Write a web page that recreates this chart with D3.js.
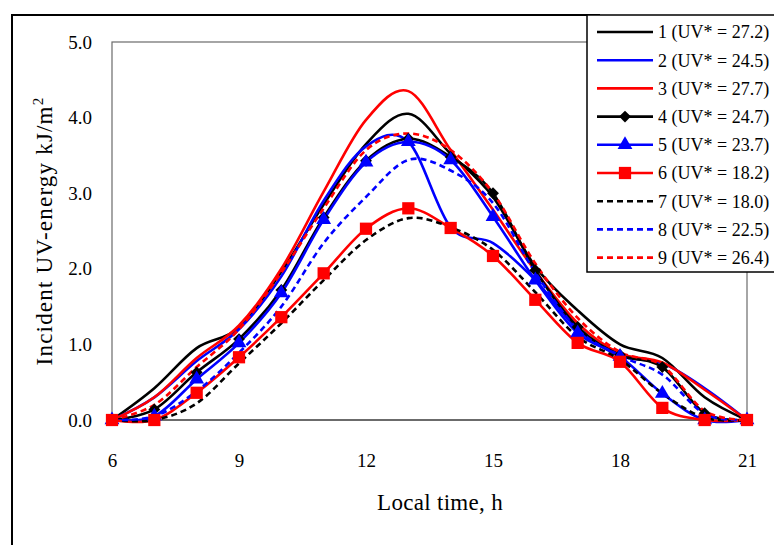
<!doctype html>
<html lang="en">
  <head>
    <meta charset="utf-8">
    <title>Incident UV-energy</title>
    <style>
      body{ margin: 0; background: #fff; }
      svg text{ font-family: "Liberation Serif", "DejaVu Serif", serif; fill: #000; }
    </style>
  </head>
  <body>
    <svg id="chart" width="774" height="545"></svg>
    <script src="https://d3js.org/d3.v7.min.js"></script>
    <script>

      //hours on the x axis
      var hours = [6, 7, 8, 9, 10, 11, 12, 13, 14, 15, 16, 17, 18, 19, 20, 21];

      //incident UV energy, kJ/m2, one array per day
      var day1 = [0, 0.42, 0.95, 1.22, 1.96, 2.85, 3.65, 4.05, 3.52, 2.95, 2.03, 1.45, 1.0, 0.82, 0.3, 0];
      var day2 = [0, 0.3, 0.78, 1.2, 1.9, 2.9, 3.62, 3.68, 2.55, 2.34, 1.85, 1.2, 0.85, 0.75, 0.42, 0];
      var day3 = [0, 0.3, 0.82, 1.25, 2.0, 3.02, 3.97, 4.35, 3.57, 2.78, 1.97, 1.28, 0.88, 0.76, 0.4, 0];
      var day4 = [0, 0.14, 0.63, 1.07, 1.72, 2.68, 3.43, 3.72, 3.48, 3.0, 1.98, 1.23, 0.86, 0.7, 0.09, 0];
      var day5 = [0, 0.05, 0.54, 1.02, 1.68, 2.65, 3.41, 3.68, 3.44, 2.69, 1.85, 1.15, 0.84, 0.35, 0, 0];
      var day6 = [0, 0, 0.36, 0.83, 1.36, 1.94, 2.53, 2.8, 2.54, 2.17, 1.59, 1.02, 0.77, 0.16, 0, 0];
      var day7 = [0, 0, 0.22, 0.75, 1.28, 1.85, 2.38, 2.67, 2.55, 2.25, 1.69, 1.1, 0.8, 0.35, 0.03, 0];
      var day8 = [0, 0.05, 0.38, 0.89, 1.5, 2.34, 2.95, 3.44, 3.3, 2.87, 1.95, 1.2, 0.85, 0.6, 0.08, 0];
      var day9 = [0, 0.2, 0.7, 1.2, 1.95, 2.8, 3.57, 3.79, 3.57, 3.0, 2.07, 1.35, 0.9, 0.72, 0.12, 0];

      //legend labels
      var labels = ["1 (UV* = 27.2)", "2 (UV* = 24.5)", "3 (UV* = 27.7)", "4 (UV* = 24.7)", "5 (UV* = 23.7)",
                    "6 (UV* = 18.2)", "7 (UV* = 18.0)", "8 (UV* = 22.5)", "9 (UV* = 26.4)"];

      //tick labels
      var xTicks = [6, 9, 12, 15, 18, 21];
      var yTicks = [0, 1, 2, 3, 4, 5];

      var values = [day1, day2, day3, day4, day5, day6, day7, day8, day9];

      //look of each series
      var looks = [
        {color: "#000000", dash: null, marker: null},
        {color: "#0000ff", dash: null, marker: null},
        {color: "#ff0000", dash: null, marker: null},
        {color: "#000000", dash: null, marker: "diamond"},
        {color: "#0000ff", dash: null, marker: "triangle"},
        {color: "#ff0000", dash: null, marker: "square"},
        {color: "#000000", dash: "6,4", marker: null},
        {color: "#0000ff", dash: "6,4", marker: null},
        {color: "#ff0000", dash: "6,4", marker: null}
      ];

      var series = values.map(function(v, i){
        return {
          label: labels[i],
          look: looks[i],
          points: hours.map(function(h, j){ return {x: h, y: v[j]}; })
        };
      });

      var svg = d3.select("#chart");

      var plot = {left: 112, right: 747, top: 42, bottom: 420};

      var x = d3.scaleLinear().domain([6, 21]).range([plot.left, plot.right]);
      var y = d3.scaleLinear().domain([0, 5]).range([plot.bottom, plot.top]);

      //outer figure border
      svg.append("path")
        .attr("d", "M12,545V15H600")
        .attr("fill", "none")
        .attr("stroke", "#000")
        .attr("stroke-width", 2);

      //plot frame
      svg.append("rect")
        .attr("x", plot.left)
        .attr("y", plot.top)
        .attr("width", plot.right - plot.left)
        .attr("height", plot.bottom - plot.top)
        .attr("fill", "none")
        .attr("stroke", "#6b6b6b")
        .attr("stroke-width", 1.2);

      //bottom axis line a bit heavier
      svg.append("line")
        .attr("x1", plot.left).attr("x2", plot.right)
        .attr("y1", plot.bottom).attr("y2", plot.bottom)
        .attr("stroke", "#6b6b6b")
        .attr("stroke-width", 2.2);

      //x axis
      var xAxis = svg.append("g")
        .attr("transform", "translate(0," + plot.bottom + ")")
        .call(d3.axisBottom(x).tickValues(xTicks).tickSize(0).tickPadding(34).tickFormat(d3.format("d")));
      xAxis.select(".domain").remove();
      xAxis.selectAll("text")
        .style("font-family", "'Liberation Serif', serif")
        .style("font-size", "19px");

      //y axis
      var yAxis = svg.append("g")
        .attr("transform", "translate(" + plot.left + ",0)")
        .call(d3.axisLeft(y).tickValues(yTicks).tickSize(0).tickPadding(20).tickFormat(d3.format(".1f")));
      yAxis.select(".domain").remove();
      yAxis.selectAll("text")
        .style("font-family", "'Liberation Serif', serif")
        .style("font-size", "19px");

      //axis titles
      svg.append("text")
        .attr("x", 440)
        .attr("y", 510)
        .attr("text-anchor", "middle")
        .style("font-size", "23px")
        .style("letter-spacing", "0.3px")
        .text("Local time, h");

      var yTitle = svg.append("text")
        .attr("transform", "translate(52,231) rotate(-90)")
        .attr("text-anchor", "middle")
        .style("font-size", "23px")
        .style("letter-spacing", "1.2px");
      yTitle.append("tspan").text("Incident UV-energy  kJ/m");
      yTitle.append("tspan")
        .attr("dy", -9)
        .style("font-size", "15px")
        .text("2");

      //smoothed lines
      var line = d3.line()
        .x(function(d){ return x(d.x); })
        .y(function(d){ return y(d.y); })
        .curve(d3.curveCardinal.tension(0));

      var symbols = {
        diamond: d3.symbol().type(d3.symbolDiamond2).size(90),
        triangle: d3.symbol().type(d3.symbolTriangle).size(95),
        square: d3.symbol().type(d3.symbolSquare).size(150)
      };

      series.forEach(function(s){
        svg.append("path")
          .attr("d", line(s.points))
          .attr("fill", "none")
          .attr("stroke", s.look.color)
          .attr("stroke-width", 2.6)
          .attr("stroke-dasharray", s.look.dash);
      });

      //markers on top of the lines
      series.forEach(function(s){
        if(!s.look.marker) return;
        svg.append("g")
          .selectAll("path")
          .data(s.points)
          .enter()
          .append("path")
          .attr("transform", function(d){ return "translate(" + x(d.x) + "," + y(d.y) + ")"; })
          .attr("d", symbols[s.look.marker]())
          .attr("fill", s.look.color);
      });

      //legend box
      var legend = svg.append("g");

      legend.append("rect")
        .attr("x", 587)
        .attr("y", 15)
        .attr("width", 200)
        .attr("height", 257)
        .attr("fill", "#fff")
        .attr("stroke", "#000")
        .attr("stroke-width", 1.5);

      var items = legend.selectAll("g.item")
        .data(series)
        .enter()
        .append("g")
        .attr("class", "item")
        .attr("transform", function(d, i){ return "translate(0," + (32 + i * 28.2) + ")"; });

      items.append("line")
        .attr("x1", 597).attr("x2", 653)
        .attr("y1", 0).attr("y2", 0)
        .attr("stroke", function(d){ return d.look.color; })
        .attr("stroke-width", 2.6)
        .attr("stroke-dasharray", function(d){ return d.look.dash; });

      items.filter(function(d){ return d.look.marker; })
        .append("path")
        .attr("transform", "translate(625,0)")
        .attr("d", function(d){ return symbols[d.look.marker](); })
        .attr("fill", function(d){ return d.look.color; });

      items.append("text")
        .attr("x", 658)
        .attr("y", 0)
        .attr("dy", "0.35em")
        .style("font-size", "18px")
        .text(function(d){ return d.label; });

    </script>
  </body>
</html>
